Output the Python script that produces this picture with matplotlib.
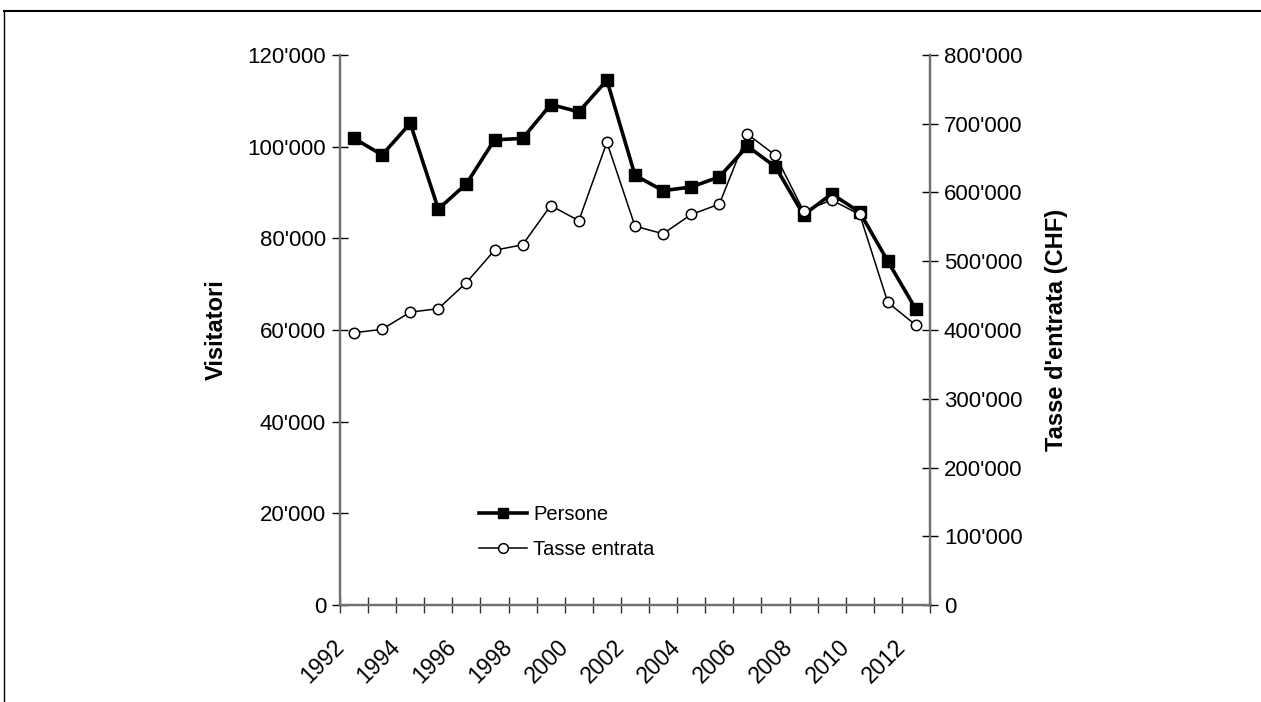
import numpy as np
import matplotlib
matplotlib.use('Agg')
import matplotlib.pyplot as plt
from matplotlib.ticker import FuncFormatter, FixedLocator
from matplotlib.lines import Line2D
from matplotlib.transforms import ScaledTranslation

plt.rcParams['font.family'] = ['Liberation Sans', 'DejaVu Sans']

years = list(range(1992, 2013))
persone = [101800, 98200, 105100, 86400, 91900, 101500, 101800, 109200, 107600, 114500,
           93750, 90400, 91200, 93400, 100100, 95600, 85100, 89700, 85700, 75000, 64500]
tasse = [396000, 401000, 426000, 431000, 469000, 516000, 524000, 581000, 559000, 673000,
         551000, 540000, 568000, 583000, 685000, 654000, 573000, 589000, 568000, 440000, 407000]

def apos(v, pos=None):
    return f"{int(round(v)):,}".replace(",", "'")

fig = plt.figure(figsize=(12.61, 7.02), dpi=100)
ax = fig.add_axes([340/1261, 1-605/702, 590/1261, 550/702])
ax2 = ax.twinx()

x = np.arange(len(years))
ax.plot(x, persone, color='black', lw=2.6, marker='s', ms=8.5, mfc='black', mec='black',
        label='Persone', zorder=3)
ax2.plot(x, tasse, color='black', lw=1.1, marker='o', ms=7.5, mfc='white', mec='black',
         mew=1.1, label='Tasse entrata', zorder=3)

ax.set_xlim(-0.5, len(years) - 0.5)
ax.set_ylim(0, 120000)
ax2.set_ylim(0, 800000)
ax.set_yticks(np.arange(0, 120001, 20000))
ax2.set_yticks(np.arange(0, 800001, 100000))
ax.yaxis.set_major_formatter(FuncFormatter(apos))
ax2.yaxis.set_major_formatter(FuncFormatter(apos))

ax.xaxis.set_minor_locator(FixedLocator(np.arange(-0.5, len(years), 1.0)))
ax.tick_params(axis='x', which='major', length=0, pad=22)
ax.tick_params(axis='x', which='minor', direction='inout', length=12, width=1, color='#333333')
ax.tick_params(axis='y', direction='inout', length=12, width=1, labelsize=16, pad=4)
ax2.tick_params(axis='y', direction='inout', length=12, width=1, labelsize=16, pad=4)

ax.set_xticks(x[::2])
ax.set_xticklabels([str(y) for y in years[::2]], rotation=45, ha='right',
                   rotation_mode='anchor', fontsize=16.5)
# shift the year labels a little to the left (after tick_params, which resets transforms)
shift = ScaledTranslation(-22/100, 0, fig.dpi_scale_trans)
for lab in ax.get_xticklabels():
    lab.set_transform(lab.get_transform() + shift)

for a in (ax, ax2):
    a.spines['top'].set_visible(False)
    for s in ('left', 'right', 'bottom'):
        a.spines[s].set_color('#707070')
        a.spines[s].set_linewidth(1.6)

ax.set_ylabel('Visitatori', fontsize=17, fontweight='bold')
ax2.set_ylabel("Tasse d'entrata (CHF)", fontsize=17, fontweight='bold')
ax.yaxis.set_label_coords((228 - 340) / 590, 0.5)
ax2.yaxis.set_label_coords((1045 - 340) / 590, 0.5)

handles = [Line2D([], [], color='black', lw=2.6, marker='s', ms=7.5),
           Line2D([], [], color='black', lw=1.1, marker='o', ms=7, mfc='white', mew=1.1)]
ax.legend(handles, ['Persone', 'Tasse entrata'], loc='upper left',
          bbox_to_anchor=(0.205, 0.215), frameon=False, fontsize=14.5, handlelength=2.4,
          handletextpad=0.3, labelspacing=0.8)

# outer chart border (top and left visible)
fig.add_artist(Line2D([4/1261, 1], [1-11/702, 1-11/702], color='black', lw=1.5))
fig.add_artist(Line2D([4/1261, 4/1261], [0, 1-11/702], color='black', lw=1.0))

fig.savefig('out.png', dpi=100)
